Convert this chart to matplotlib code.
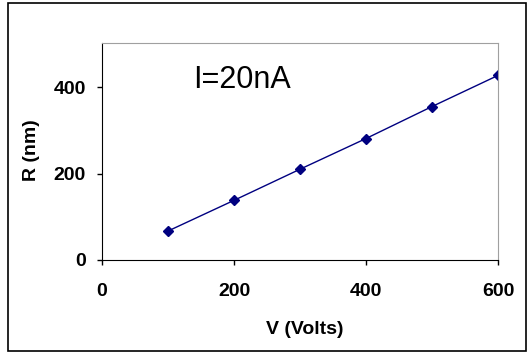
import matplotlib
matplotlib.use("Agg")
import matplotlib.pyplot as plt
from matplotlib.patches import Rectangle

volts = [100, 200, 300, 400, 500, 600]
radius = [67, 138, 210, 281, 355, 427]
x_ticks = [0, 200, 400, 600]
y_ticks = [0, 200, 400]

plt.rcParams['font.family'] = ['Liberation Sans', 'DejaVu Sans']

W, H = 529, 354
fig = plt.figure(figsize=(W / 100, H / 100), dpi=100)
ax = fig.add_axes([102 / W, 94 / H, 396 / W, 217 / H])

ax.plot(volts, radius, color="#000080", lw=1, marker="D", markersize=5)
ax.set_xlim(0, 600)
ax.set_ylim(0, 502)
ax.set_xticks(x_ticks)
ax.set_yticks(y_ticks)
ax.tick_params(labelsize=14, length=3.5, width=1, direction="out")
ax.tick_params(axis="x", pad=13)
ax.tick_params(axis="y", pad=8)
for lab in ax.get_xticklabels() + ax.get_yticklabels():
    lab.set_fontweight("bold")

ax.spines["top"].set_color("#a0a0a0")
ax.spines["right"].set_color("#a0a0a0")
ax.spines["left"].set_color("black")
ax.spines["bottom"].set_color("black")

# axis titles placed by pixel position from the reference
fig.text(305 / W, 1 - 330 / H, "V (Volts)", fontsize=14, fontweight="bold",
         ha="center", va="center")
fig.text(31 / W, 1 - 150 / H, "R (nm)", fontsize=14, fontweight="bold",
         ha="center", va="center", rotation=90)
fig.text(242 / W, 1 - 80 / H, "I=20nA", fontsize=22, ha="center", va="center")

# outer frame
fig.patches.append(Rectangle((8 / W, 3 / H), 518 / W, 348 / H,
                             transform=fig.transFigure, fill=False,
                             edgecolor="black", lw=1.2))

fig.savefig("out.png", dpi=100)
